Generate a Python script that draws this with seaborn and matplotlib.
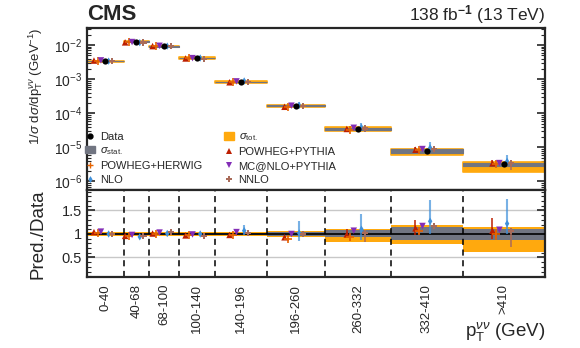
import numpy as np
import pandas as pd
import matplotlib
matplotlib.use("Agg")
import matplotlib.pyplot as plt
from matplotlib.lines import Line2D
from matplotlib.patches import Patch
from matplotlib.ticker import MultipleLocator, LogLocator, NullFormatter
import seaborn as sns

# ---------------- data ----------------
bin_labels = ["0-40", "40-68", "68-100", "100-140", "140-196", "196-260", "260-332", "332-410", ">410"]
bin_edges = [0, 40, 68, 100, 140, 196, 260, 332, 410, 500]
data_vals = [3.4e-3, 1.26e-2, 9.3e-3, 4.2e-3, 8.3e-4, 1.67e-4, 3.5e-5, 7.6e-6, 3.16e-6]
tot_up = [0.04, 0.04, 0.04, 0.04, 0.04, 0.07, 0.10, 0.20, 0.14]
tot_dn = [0.04, 0.04, 0.04, 0.04, 0.04, 0.07, 0.16, 0.21, 0.39]
stat_up = [0.02, 0.02, 0.02, 0.02, 0.02, 0.04, 0.075, 0.15, 0.10]
stat_dn = [0.02, 0.02, 0.02, 0.02, 0.02, 0.04, 0.065, 0.12, 0.13]

model_names = ["POWHEG+PYTHIA", "POWHEG+HERWIG", "MC@NLO+PYTHIA", "NLO", "NNLO"]
pp_ratio = [1.04, 0.96, 1.01, 0.97, 0.98, 0.93, 0.99, 1.12, 1.07]
ph_ratio = [1.03, 0.96, 1.00, 0.97, 0.97, 0.89, 0.93, 1.07, 1.00]
mc_ratio = [1.05, 0.98, 1.03, 0.99, 1.04, 1.00, 1.07, 1.17, 1.09]
nlo_ratio = [1.00, 0.94, 1.01, 1.00, 1.07, 1.02, 1.10, 1.27, 1.22]
nnlo_ratio = [1.00, 0.95, 1.04, 0.96, 1.02, 1.00, 1.02, 1.17, 1.07]

pp_err_up = [0.005, 0.005, 0.005, 0.005, 0.01, 0.03, 0.12, 0.18, 0.28]
pp_err_dn = [0.005, 0.005, 0.005, 0.005, 0.01, 0.03, 0.06, 0.14, 0.18]
ph_err_up = [0.005, 0.005, 0.005, 0.005, 0.01, 0.02, 0.04, 0.05, 0.10]
ph_err_dn = [0.005, 0.005, 0.005, 0.005, 0.01, 0.03, 0.07, 0.06, 0.12]
mc_err_up = [0.005, 0.005, 0.005, 0.005, 0.005, 0.01, 0.01, 0.01, 0.02]
mc_err_dn = [0.005, 0.005, 0.005, 0.005, 0.005, 0.01, 0.01, 0.01, 0.02]
nlo_err_up = [0.02, 0.02, 0.02, 0.02, 0.12, 0.26, 0.33, 0.46, 0.53]
nlo_err_dn = [0.02, 0.03, 0.02, 0.02, 0.10, 0.16, 0.22, 0.27, 0.22]
nnlo_err_up = [0.005, 0.01, 0.01, 0.01, 0.02, 0.02, 0.06, 0.04, 0.06]
nnlo_err_dn = [0.005, 0.02, 0.01, 0.02, 0.02, 0.03, 0.20, 0.06, 0.34]

# ---------------- style ----------------
sns.set_theme(style="ticks")
plt.rcParams["font.family"] = ["Liberation Sans", "DejaVu Sans"]
plt.rcParams["mathtext.fontset"] = "custom"
plt.rcParams["mathtext.rm"] = "Liberation Sans"
plt.rcParams["mathtext.it"] = "Liberation Sans:italic"
plt.rcParams["mathtext.bf"] = "Liberation Sans:bold"
plt.rcParams["axes.linewidth"] = 1.6

colors = {"POWHEG+PYTHIA": "#bd1f01", "POWHEG+HERWIG": "#e76300", "MC@NLO+PYTHIA": "#832db6",
          "NLO": "#3f90da", "NNLO": "#a96b59"}
markers = {"POWHEG+PYTHIA": "^", "POWHEG+HERWIG": "+", "MC@NLO+PYTHIA": "v",
           "NLO": "d", "NNLO": "P"}
sizes = {"POWHEG+PYTHIA": 22, "POWHEG+HERWIG": 30, "MC@NLO+PYTHIA": 22, "NLO": 14, "NNLO": 20}
offsets = {"POWHEG+PYTHIA": -12.4, "POWHEG+HERWIG": -8.4, "MC@NLO+PYTHIA": -4.8,
           "NLO": 3.6, "NNLO": 7.6}
ORANGE = "#ffa90e"
GRAY = "#717581"

edges = np.array(bin_edges, dtype=float)
centers = 0.5 * (edges[:-1] + edges[1:])
data_arr = np.array(data_vals)

ratios = {"POWHEG+PYTHIA": pp_ratio, "POWHEG+HERWIG": ph_ratio, "MC@NLO+PYTHIA": mc_ratio,
          "NLO": nlo_ratio, "NNLO": nnlo_ratio}
errs_up = {"POWHEG+PYTHIA": pp_err_up, "POWHEG+HERWIG": ph_err_up, "MC@NLO+PYTHIA": mc_err_up,
           "NLO": nlo_err_up, "NNLO": nnlo_err_up}
errs_dn = {"POWHEG+PYTHIA": pp_err_dn, "POWHEG+HERWIG": ph_err_dn, "MC@NLO+PYTHIA": mc_err_dn,
           "NLO": nlo_err_dn, "NNLO": nnlo_err_dn}

rows = []
for m in model_names:
    for i in range(len(bin_labels)):
        r = ratios[m][i]
        rows.append(dict(model=m, x=centers[i] + offsets[m], ratio=r,
                         up=errs_up[m][i], dn=errs_dn[m][i],
                         value=data_arr[i] * r))
df = pd.DataFrame(rows)
ddf = pd.DataFrame(dict(x=centers, value=data_arr, label=bin_labels))

fig = plt.figure(figsize=(5.8, 3.48), dpi=100)
ax1 = fig.add_axes([0.150, 0.4526, 0.7897, 0.467])
ax2 = fig.add_axes([0.150, 0.204, 0.7897, 0.2486])

# ---------------- upper panel ----------------
for i in range(len(bin_labels)):
    x0, x1 = edges[i], edges[i + 1]
    d = data_arr[i]
    ax1.fill_between([x0, x1], d * (1 - tot_dn[i]), d * (1 + tot_up[i]), color=ORANGE,
                     edgecolor=ORANGE, linewidth=1.2, zorder=1)
    ax1.fill_between([x0, x1], d * (1 - stat_dn[i]), d * (1 + stat_up[i]), color=GRAY,
                     edgecolor=GRAY, linewidth=0.8, zorder=2)

for m in model_names:
    sub = df[df.model == m]
    ax1.errorbar(sub.x, sub.value, yerr=[sub.value * sub.dn, sub.value * sub.up], fmt="none",
                 ecolor=colors[m], elinewidth=1.5 if m == "NLO" else 1.1,
                 alpha=0.7 if m == "NLO" else 1.0, zorder=3)
    sns.scatterplot(data=sub, x="x", y="value", marker=markers[m], color=colors[m],
                    s=sizes[m], linewidth=1.2 if m == "POWHEG+HERWIG" else 0,
                    edgecolor=None if m == "POWHEG+HERWIG" else "none",
                    ax=ax1, legend=False, zorder=4)
sns.scatterplot(data=ddf, x="x", y="value", color="black", s=20, linewidth=0, ax=ax1,
                legend=False, zorder=5)

ax1.set_yscale("log")
ax1.set_ylim(5.4e-7, 3.2e-2)
ax1.set_xlim(0, 500)
ax1.set_xticks([])
ax1.set_xlabel("")
ax1.set_ylabel(r"1/$\sigma$ d$\sigma$/dp$_{\mathrm{T}}^{\nu\nu}$ (GeV$^{-1}$)", fontsize=9.5, loc="top")
ax1.yaxis.set_label_coords(-0.092, 1.0)
ax1.yaxis.set_major_locator(LogLocator(base=10, numticks=10))
ax1.yaxis.set_minor_locator(LogLocator(base=10, subs=np.arange(2, 10), numticks=20))
ax1.yaxis.set_minor_formatter(NullFormatter())
ax1.tick_params(axis="y", which="both", direction="in", right=True, labelsize=10)
ax1.tick_params(axis="y", which="major", length=6, width=1.2)
ax1.tick_params(axis="y", which="minor", length=3, width=0.8)
ax1.tick_params(axis="x", which="both", length=0)

# legend
h = [
    Line2D([], [], marker="o", color="black", linestyle="none", markersize=3.5),
    Patch(facecolor=GRAY, edgecolor=GRAY),
    Line2D([], [], marker="+", color=colors["POWHEG+HERWIG"], linestyle="none", markersize=4, mew=1),
    Line2D([], [], marker="d", color=colors["NLO"], linestyle="none", markersize=3.5, mew=0),
    Patch(facecolor=ORANGE, edgecolor=ORANGE),
    Line2D([], [], marker="^", color=colors["POWHEG+PYTHIA"], linestyle="none", markersize=4, mew=0),
    Line2D([], [], marker="v", color=colors["MC@NLO+PYTHIA"], linestyle="none", markersize=4, mew=0),
    Line2D([], [], marker="P", color=colors["NNLO"], linestyle="none", markersize=4, mew=0),
]
labs = ["Data", r"$\sigma_{\mathrm{stat.}}$", "POWHEG+HERWIG", "NLO",
        r"$\sigma_{\mathrm{tot.}}$", "POWHEG+PYTHIA", "MC@NLO+PYTHIA", "NNLO"]
fig.legend(h, labs, ncol=2, loc="upper left", bbox_to_anchor=(0.147, 0.622), frameon=False,
           fontsize=8, handlelength=0.9, handletextpad=0.4, columnspacing=2.0,
           labelspacing=0.35, borderaxespad=0, borderpad=0)

# ---------------- ratio panel ----------------
for i in range(len(bin_labels)):
    x0, x1 = edges[i], edges[i + 1]
    ax2.fill_between([x0, x1], 1 - tot_dn[i], 1 + tot_up[i], color=ORANGE, linewidth=0, zorder=1)
    ax2.fill_between([x0, x1], 1 - stat_dn[i], 1 + stat_up[i], color=GRAY, linewidth=0, zorder=2)
for yv in (0.5, 1.5):
    ax2.axhline(yv, color="#c8c8c8", linewidth=1.0, zorder=0)
ax2.axhline(1.0, color="black", linewidth=1.2, zorder=3)
for e in edges[1:-1]:
    ax2.axvline(e, color="black", linestyle=(0, (4, 3)), linewidth=1.1, zorder=2.5)

for m in model_names:
    sub = df[df.model == m]
    ax2.errorbar(sub.x, sub.ratio, yerr=[sub.dn, sub.up], fmt="none",
                 ecolor=colors[m], elinewidth=1.5 if m == "NLO" else 1.1,
                 alpha=0.7 if m == "NLO" else 1.0, zorder=4)
    sns.scatterplot(data=sub, x="x", y="ratio", marker=markers[m], color=colors[m],
                    s=sizes[m], linewidth=1.2 if m == "POWHEG+HERWIG" else 0,
                    edgecolor=None if m == "POWHEG+HERWIG" else "none",
                    ax=ax2, legend=False, zorder=5)

ax2.set_xlim(0, 500)
ax2.set_ylim(0.085, 1.925)
ax2.set_yticks([0.5, 1, 1.5])
ax2.set_yticklabels(["0.5", "1", "1.5"])
ax2.yaxis.set_minor_locator(MultipleLocator(0.1))
ax2.tick_params(axis="y", which="both", direction="in", right=True, labelsize=10.5)
ax2.tick_params(axis="y", which="major", length=6, width=1.2)
ax2.tick_params(axis="y", which="minor", length=3, width=0.8)
ax2.set_xticks(centers)
ax2.set_xticklabels(bin_labels, rotation=90, fontsize=9.5)
ax2.tick_params(axis="x", length=0, pad=5)
ax2.set_ylabel("Pred./Data", fontsize=13.5)
ax2.yaxis.set_label_coords(-0.088, 0.5)
ax2.set_xlabel("")

fig.text(0.9397, 0.035, r"p$_{\mathrm{T}}^{\nu\nu}$ (GeV)", ha="right", va="baseline", fontsize=13.5)
fig.text(0.150, 0.942, "CMS", ha="left", va="baseline", fontsize=16, fontweight="bold")
fig.text(0.9397, 0.942, r"138 fb$^{\mathbf{-1}}$ (13 TeV)", ha="right", va="baseline", fontsize=12.5)

fig.savefig("out.png", dpi=100)
